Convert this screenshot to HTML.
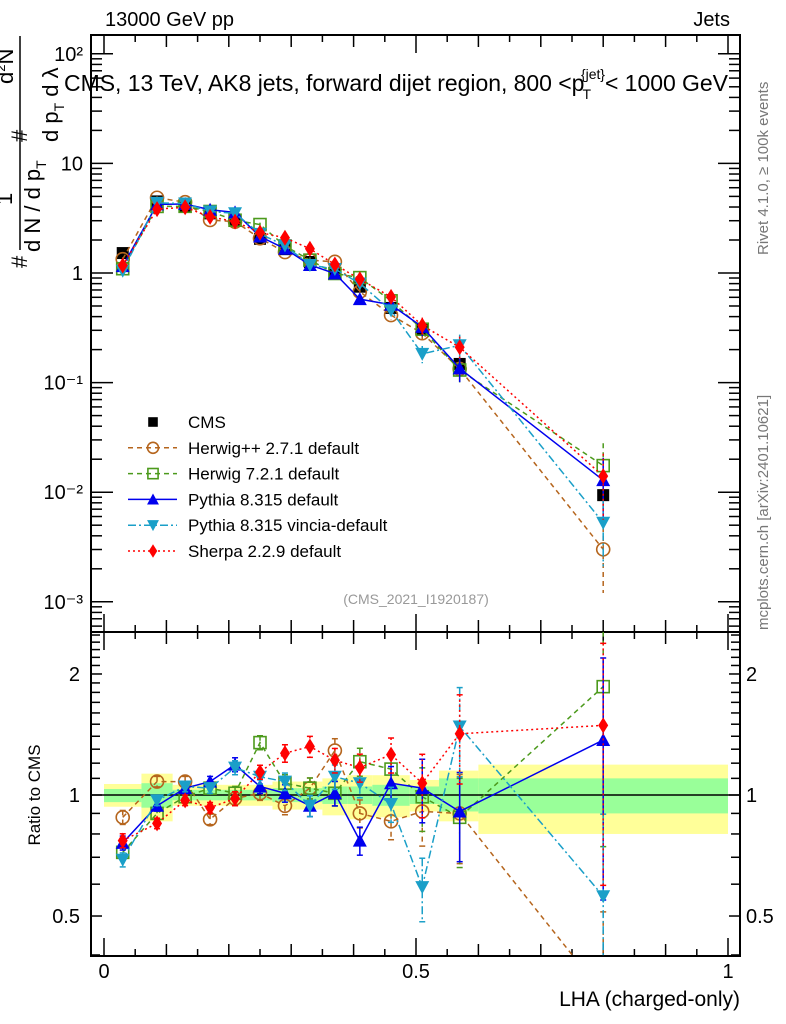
<!DOCTYPE html>
<html><head><meta charset="utf-8"><style>
html,body{margin:0;padding:0;background:#fff;width:786px;height:1024px;overflow:hidden;}
svg{display:block;font-family:"Liberation Sans",sans-serif;}
</style></head><body>
<svg id="chart" width="786" height="1024" viewBox="0 0 786 1024" xmlns="http://www.w3.org/2000/svg">
<g id="bands"></g>
<g id="axes"></g>
<g id="series"></g>
<text x="105" y="26" font-size="20">13000 GeV pp</text>
<text x="730" y="26" font-size="20" text-anchor="end">Jets</text>
<text x="64" y="91" font-size="23" textLength="664">CMS, 13 TeV, AK8 jets, forward dijet region, 800 &lt;p<tspan font-size="14" dy="8" dx="-2">T</tspan><tspan font-size="14" dy="-20" dx="-10">{jet}</tspan><tspan dy="12">&lt; 1000 GeV</tspan></text>
<g font-size="22">
<text transform="translate(27,268) rotate(-90)">#</text>
<line x1="20" y1="250" x2="20" y2="36" stroke="#000" stroke-width="1.5"/>
<text transform="translate(12,205) rotate(-90)">1</text>
<text transform="translate(40,252) rotate(-90)">d N / d p<tspan font-size="14" dy="6">T</tspan></text>
<text transform="translate(27,142) rotate(-90)">#</text>
<text transform="translate(13,84) rotate(-90)">d<tspan font-size="13" dy="-8">2</tspan><tspan dy="8">N</tspan></text>
<text transform="translate(58,142) rotate(-90)">d p<tspan font-size="14" dy="6">T</tspan><tspan dy="-6"> d λ</tspan></text>
</g>
<text transform="translate(40,795) rotate(-90)" font-size="17" text-anchor="middle">Ratio to CMS</text>
<text x="740" y="1006" font-size="21" text-anchor="end">LHA (charged-only)</text>
<text transform="translate(768,255) rotate(-90)" font-size="15" fill="#777">Rivet 4.1.0, ≥ 100k events</text>
<text transform="translate(768,630) rotate(-90)" font-size="15" fill="#777">mcplots.cern.ch [arXiv:2401.10621]</text>
<text x="416" y="604" font-size="14" fill="#999" text-anchor="middle">(CMS_2021_I1920187)</text>
<g id="legend"></g>
</svg>
<script>
const xs = [0.03,0.085,0.13,0.17,0.21,0.25,0.29,0.33,0.37,0.41,0.46,0.51,0.57,0.8];
const edges = [0,0.06,0.11,0.15,0.19,0.23,0.27,0.31,0.35,0.39,0.43,0.49,0.537,0.6,1.0];
const cms = [1.52,4.5,4.1,3.5,3.0,2.05,1.65,1.26,0.98,0.75,0.48,0.31,0.148,0.0094];
const yellowUp = [1.065,1.13,1.06,1.06,1.06,1.06,1.08,1.08,1.1,1.12,1.12,1.09,1.15,1.19];
const yellowDn = [0.935,0.86,0.94,0.94,0.94,0.94,0.92,0.92,0.89,0.87,0.88,0.91,0.86,0.80];
const greenUp = [1.035,1.07,1.03,1.03,1.03,1.03,1.04,1.04,1.05,1.05,1.06,1.05,1.1,1.1];
const greenDn = [0.96,0.93,0.97,0.97,0.97,0.97,0.96,0.96,0.95,0.95,0.94,0.95,0.91,0.90];
const rHerwigpp = [0.88,1.08,1.08,0.87,0.98,1.01,0.94,1.04,1.29,0.90,0.86,0.91,0.90,0.32];
const rHerwig7 = [0.72,0.90,0.99,1.04,1.01,1.35,1.07,1.04,1.01,1.21,1.16,0.99,0.88,1.86];
const rPythia = [0.76,0.94,1.04,1.08,1.19,1.05,1.01,0.94,1.01,0.77,1.07,1.04,0.91,1.37];
const rVincia = [0.69,0.97,1.05,1.04,1.17,1.11,1.08,0.94,1.11,1.07,0.95,0.59,1.48,0.56];
const rSherpa = [0.77,0.85,0.97,0.93,0.98,1.14,1.27,1.32,1.22,1.17,1.26,1.07,1.42,1.49];
const relErr = [0.04,0.03,0.03,0.03,0.04,0.04,0.05,0.06,0.07,0.08,0.1,0.18,0.25,0.6];
const yTicks = ["10⁻³","10⁻²","10⁻¹","1","10","10²"];
const rTicks = ["0.5","1","2"];
const xTickLabels = ["0","0.5","1"];

const NS="http://www.w3.org/2000/svg";
const L=91,R=740,T=35,M=632,B=956;
const X=v=>104+v*624;
const Y=v=>273-Math.log10(v)*109.6;
const RY=v=>795-Math.log10(v)*402;
function mk(tag,attrs,parent){const e=document.createElementNS(NS,tag);for(const k in attrs)e.setAttribute(k,attrs[k]);parent.appendChild(e);return e;}
const bands=document.getElementById('bands'),axes=document.getElementById('axes'),ser=document.getElementById('series'),leg=document.getElementById('legend');

for(let i=0;i<xs.length;i++){
  let r=mk('rect',{x:X(edges[i]),y:RY(yellowUp[i]),width:X(edges[i+1])-X(edges[i]),height:RY(yellowDn[i])-RY(yellowUp[i]),fill:'#ffff99'},bands);
  
  
  let g=mk('rect',{x:X(edges[i]),y:RY(greenUp[i]),width:X(edges[i+1])-X(edges[i]),height:RY(greenDn[i])-RY(greenUp[i]),fill:'#99ff99'},bands);
  
  
}
mk('line',{x1:L,y1:RY(1),x2:R,y2:RY(1),stroke:'#000','stroke-width':1.5},axes);

let f1=mk('rect',{x:L,y:T,width:R-L,height:M-T,fill:'none',stroke:'#000','stroke-width':2},axes);


let f2=mk('rect',{x:L,y:M,width:R-L,height:B-M,fill:'none',stroke:'#000','stroke-width':2},axes);



for(let k=0;k<=20;k++){
  const v=k*0.05, x=X(v);
  const len = (k%10==0)?18:(k%2==0?12:7);
  [[M,-1],[B,-1],[T,1],[M,1]].forEach(([y0,d])=>mk('line',{x1:x,y1:y0,x2:x,y2:y0+d*len,stroke:'#000','stroke-width':1.5},axes));
}
xTickLabels.forEach((t,i)=>{let e=mk('text',{x:X(i*0.5),y:978,'font-size':20,'text-anchor':'middle'},axes);e.textContent=t;

});

for(let d=-4;d<=2;d++){for(let m=1;m<=9;m++){const v=m*Math.pow(10,d),y=Y(v);if(y<T||y>M)continue;const len=m==1?22:11;
mk('line',{x1:L,y1:y,x2:L+len,y2:y,stroke:'#000','stroke-width':1.5},axes);
mk('line',{x1:R,y1:y,x2:R-len,y2:y,stroke:'#000','stroke-width':1.5},axes);}}
yTicks.forEach((t,i)=>{const y=Y(Math.pow(10,i-3));let e=mk('text',{x:83,y:y+7,'font-size':20,'text-anchor':'end'},axes);e.textContent=t;

});

for(let v=0.4;v<2.6;v+=0.1){const vv=Math.round(v*10)/10;const y=RY(vv);if(y<M||y>B)continue;const major=(vv==0.5||vv==1||vv==2);const len=major?11:9;
mk('line',{x1:L,y1:y,x2:L+len,y2:y,stroke:'#000','stroke-width':1.5},axes);
mk('line',{x1:R,y1:y,x2:R-len,y2:y,stroke:'#000','stroke-width':1.5},axes);}
rTicks.forEach(t=>{const y=RY(parseFloat(t));
let e=mk('text',{x:80,y:y+7,'font-size':20,'text-anchor':'end'},axes);e.textContent=t;


let e2=mk('text',{x:746,y:y+7,'font-size':20},axes);e2.textContent=t;

});

function marker(kind,color,x,y,parent,s){
  s=s||1;
  if(kind=='sq') return mk('rect',{x:x-6*s,y:y-6*s,width:12*s,height:12*s,fill:color},parent);
  if(kind=='osq') return mk('rect',{x:x-6*s,y:y-6*s,width:12*s,height:12*s,fill:'none',stroke:color,'stroke-width':1.6},parent);
  if(kind=='oc') return mk('circle',{cx:x,cy:y,r:6.5*s,fill:'none',stroke:color,'stroke-width':1.6},parent);
  if(kind=='tu') return mk('polygon',{points:`${x},${y-7*s} ${x-7*s},${y+6*s} ${x+7*s},${y+6*s}`,fill:color},parent);
  if(kind=='td') return mk('polygon',{points:`${x},${y+7*s} ${x-7*s},${y-6*s} ${x+7*s},${y-6*s}`,fill:color},parent);
  if(kind=='di') return mk('polygon',{points:`${x},${y-8*s} ${x-5*s},${y} ${x},${y+8*s} ${x+5*s},${y}`,fill:color},parent);
}
const models=[
 {name:'herwigpp',label:'Herwig++ 2.7.1 default',r:rHerwigpp,c:'#b5651d',dash:'5,4',m:'oc'},
 {name:'herwig7',label:'Herwig 7.2.1 default',r:rHerwig7,c:'#4c9a1c',dash:'5,4',m:'osq'},
 {name:'pythia',label:'Pythia 8.315 default',r:rPythia,c:'#0000ee',dash:'',m:'tu'},
 {name:'vincia',label:'Pythia 8.315 vincia-default',r:rVincia,c:'#1a9fc8',dash:'8,3,2,3',m:'td'},
 {name:'sherpa',label:'Sherpa 2.2.9 default',r:rSherpa,c:'#ff0000',dash:'2,3',m:'di'}];

const clipR=mk('clipPath',{id:'clipR'},ser);mk('rect',{x:L,y:M,width:R-L,height:B-M},clipR);
const clipT=mk('clipPath',{id:'clipT'},ser);mk('rect',{x:L,y:T,width:R-L,height:M-T},clipT);

models.forEach(md=>{
  const gT=mk('g',{'clip-path':'url(#clipT)'},ser);
  
  
  const gR=mk('g',{'clip-path':'url(#clipR)'},ser);
  
  
  const vals=xs.map((x,i)=>cms[i]*md.r[i]);
  mk('polyline',{points:xs.map((x,i)=>X(x)+','+Y(vals[i])).join(' '),fill:'none',stroke:md.c,'stroke-width':1.5,'stroke-dasharray':md.dash},gT);
  mk('polyline',{points:xs.map((x,i)=>X(x)+','+RY(md.r[i])).join(' '),fill:'none',stroke:md.c,'stroke-width':1.5,'stroke-dasharray':md.dash},gR);
  xs.forEach((x,i)=>{
    const e=relErr[i];
    const v=vals[i], r=md.r[i];
    const lo=Math.max(1-e,0.05);
    mk('line',{x1:X(x),y1:Y(v*(1+e)),x2:X(x),y2:Y(v*lo),stroke:md.c,'stroke-width':1.5,'stroke-dasharray':md.dash},gT);
    mk('line',{x1:X(x),y1:RY(r*(1+e)),x2:X(x),y2:RY(r*lo),stroke:md.c,'stroke-width':1.5,'stroke-dasharray':md.dash},gR);
    [r*(1+e),r*lo].forEach(q=>mk('line',{x1:X(x)-3,y1:RY(q),x2:X(x)+3,y2:RY(q),stroke:md.c,'stroke-width':1.5},gR));
    let p=marker(md.m,md.c,X(x),Y(v),gT);
    
    
    let q=marker(md.m,md.c,X(x),RY(r),gR);
    
    
  });
});
xs.forEach((x,i)=>{let p=marker('sq','#000',X(x),Y(cms[i]),ser);


ser.insertBefore(p,ser.firstChild.nextSibling);});

const rows=[{label:'CMS',m:'sq',c:'#000',dash:null}].concat(models.map(m=>({label:m.label,m:m.m,c:m.c,dash:m.dash})));
rows.forEach((rw,i)=>{
  const y=422+i*25.8;
  const g=mk('g',{},leg);
  
  
  if(rw.dash!==null) mk('line',{x1:128,y1:y,x2:177,y2:y,stroke:rw.c,'stroke-width':1.5,'stroke-dasharray':rw.dash},g);
  marker(rw.m,rw.c,153,y,g,rw.m=='sq'?0.8:0.85);
  const t=mk('text',{x:188,y:y+6,'font-size':17},g);t.textContent=rw.label;
});
</script>
</body></html>
